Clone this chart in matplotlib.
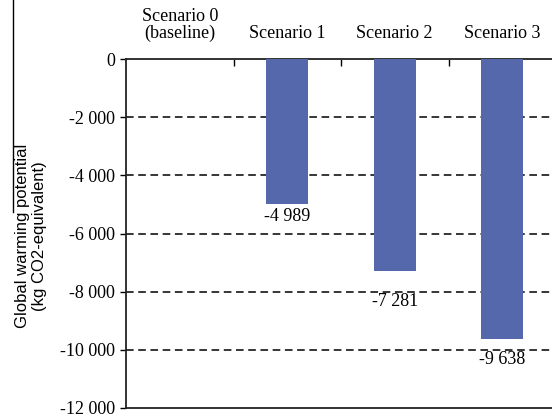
import matplotlib
matplotlib.use("Agg")
import matplotlib.pyplot as plt
from matplotlib.lines import Line2D
from matplotlib.ticker import FuncFormatter

# Dados
cenarios = ["Scenario 0\n(baseline)", "Scenario 1", "Scenario 2", "Scenario 3"]
valores = [0, -4989, -7281, -9638]
rotulos = ["", "-4 989", "-7 281", "-9 638"]
yticks = [0, -2000, -4000, -6000, -8000, -10000, -12000]

cor_barra = "#5568ab"
serif = ["Liberation Serif", "DejaVu Serif"]
sans = ["Liberation Sans", "DejaVu Sans"]

fig = plt.figure(figsize=(5.52, 4.18), dpi=100)
ax = fig.add_axes([126 / 552, 1 - 408 / 418, 430 / 552, 349 / 418])

x = list(range(len(cenarios)))
barras = ax.bar(x, valores, width=0.39, color=cor_barra, zorder=3)

# rótulos de valor abaixo das barras (deslocamentos como no original)
desloc = [0, 4, 22, 12]
for b, txt, d in zip(barras, rotulos, desloc):
    if not txt:
        continue
    ax.annotate(txt, (b.get_x() + b.get_width() / 2, b.get_height()),
                xytext=(0, -d * 0.72), textcoords="offset points",
                ha="center", va="top", fontsize=13, family=serif, zorder=4)

ax.set_xlim(-0.5, 3.5)
ax.set_ylim(-12000, 0)

# grade tracejada
for v in yticks[1:-1]:
    ax.axhline(v, color="black", lw=1.1, ls=(0, (5, 3)), zorder=2)

ax.set_yticks(yticks)
ax.yaxis.set_major_formatter(FuncFormatter(lambda v, p: f"{int(v):,}".replace(",", " ")))
ax.tick_params(axis="y", direction="out", length=4, width=1, pad=4, labelsize=13)
for lab in ax.get_yticklabels():
    lab.set_family(serif)

# categorias no topo
ax.xaxis.tick_top()
ax.set_xticks([0.5, 1.5, 2.5])
ax.set_xticklabels([])
ax.tick_params(axis="x", which="major", direction="in", length=5, width=1, top=True, bottom=False)
ax.set_xticks(x, minor=True)
ax.set_xticklabels(cenarios, minor=True)
ax.tick_params(axis="x", which="minor", length=0, pad=12, labelsize=13, top=True, bottom=False)
for lab in ax.get_xticklabels(minor=True):
    lab.set_family(serif)
    lab.set_linespacing(1.0)

for s in ["top", "bottom", "left"]:
    ax.spines[s].set_linewidth(1.3)
    ax.spines[s].set_color("#222222")
ax.spines["right"].set_visible(False)

fig.text(31 / 552, 1 - 236 / 418, "Global warming potential\n(kg CO2-equivalent)",
         rotation=90, ha="center", va="center", fontsize=12, family=sans,
         multialignment="center")

# linha vertical à esquerda presente no original
fig.add_artist(Line2D([13 / 552, 13 / 552], [1, 1 - 212 / 418], color="black", lw=1))

fig.savefig("out.png", dpi=100)
